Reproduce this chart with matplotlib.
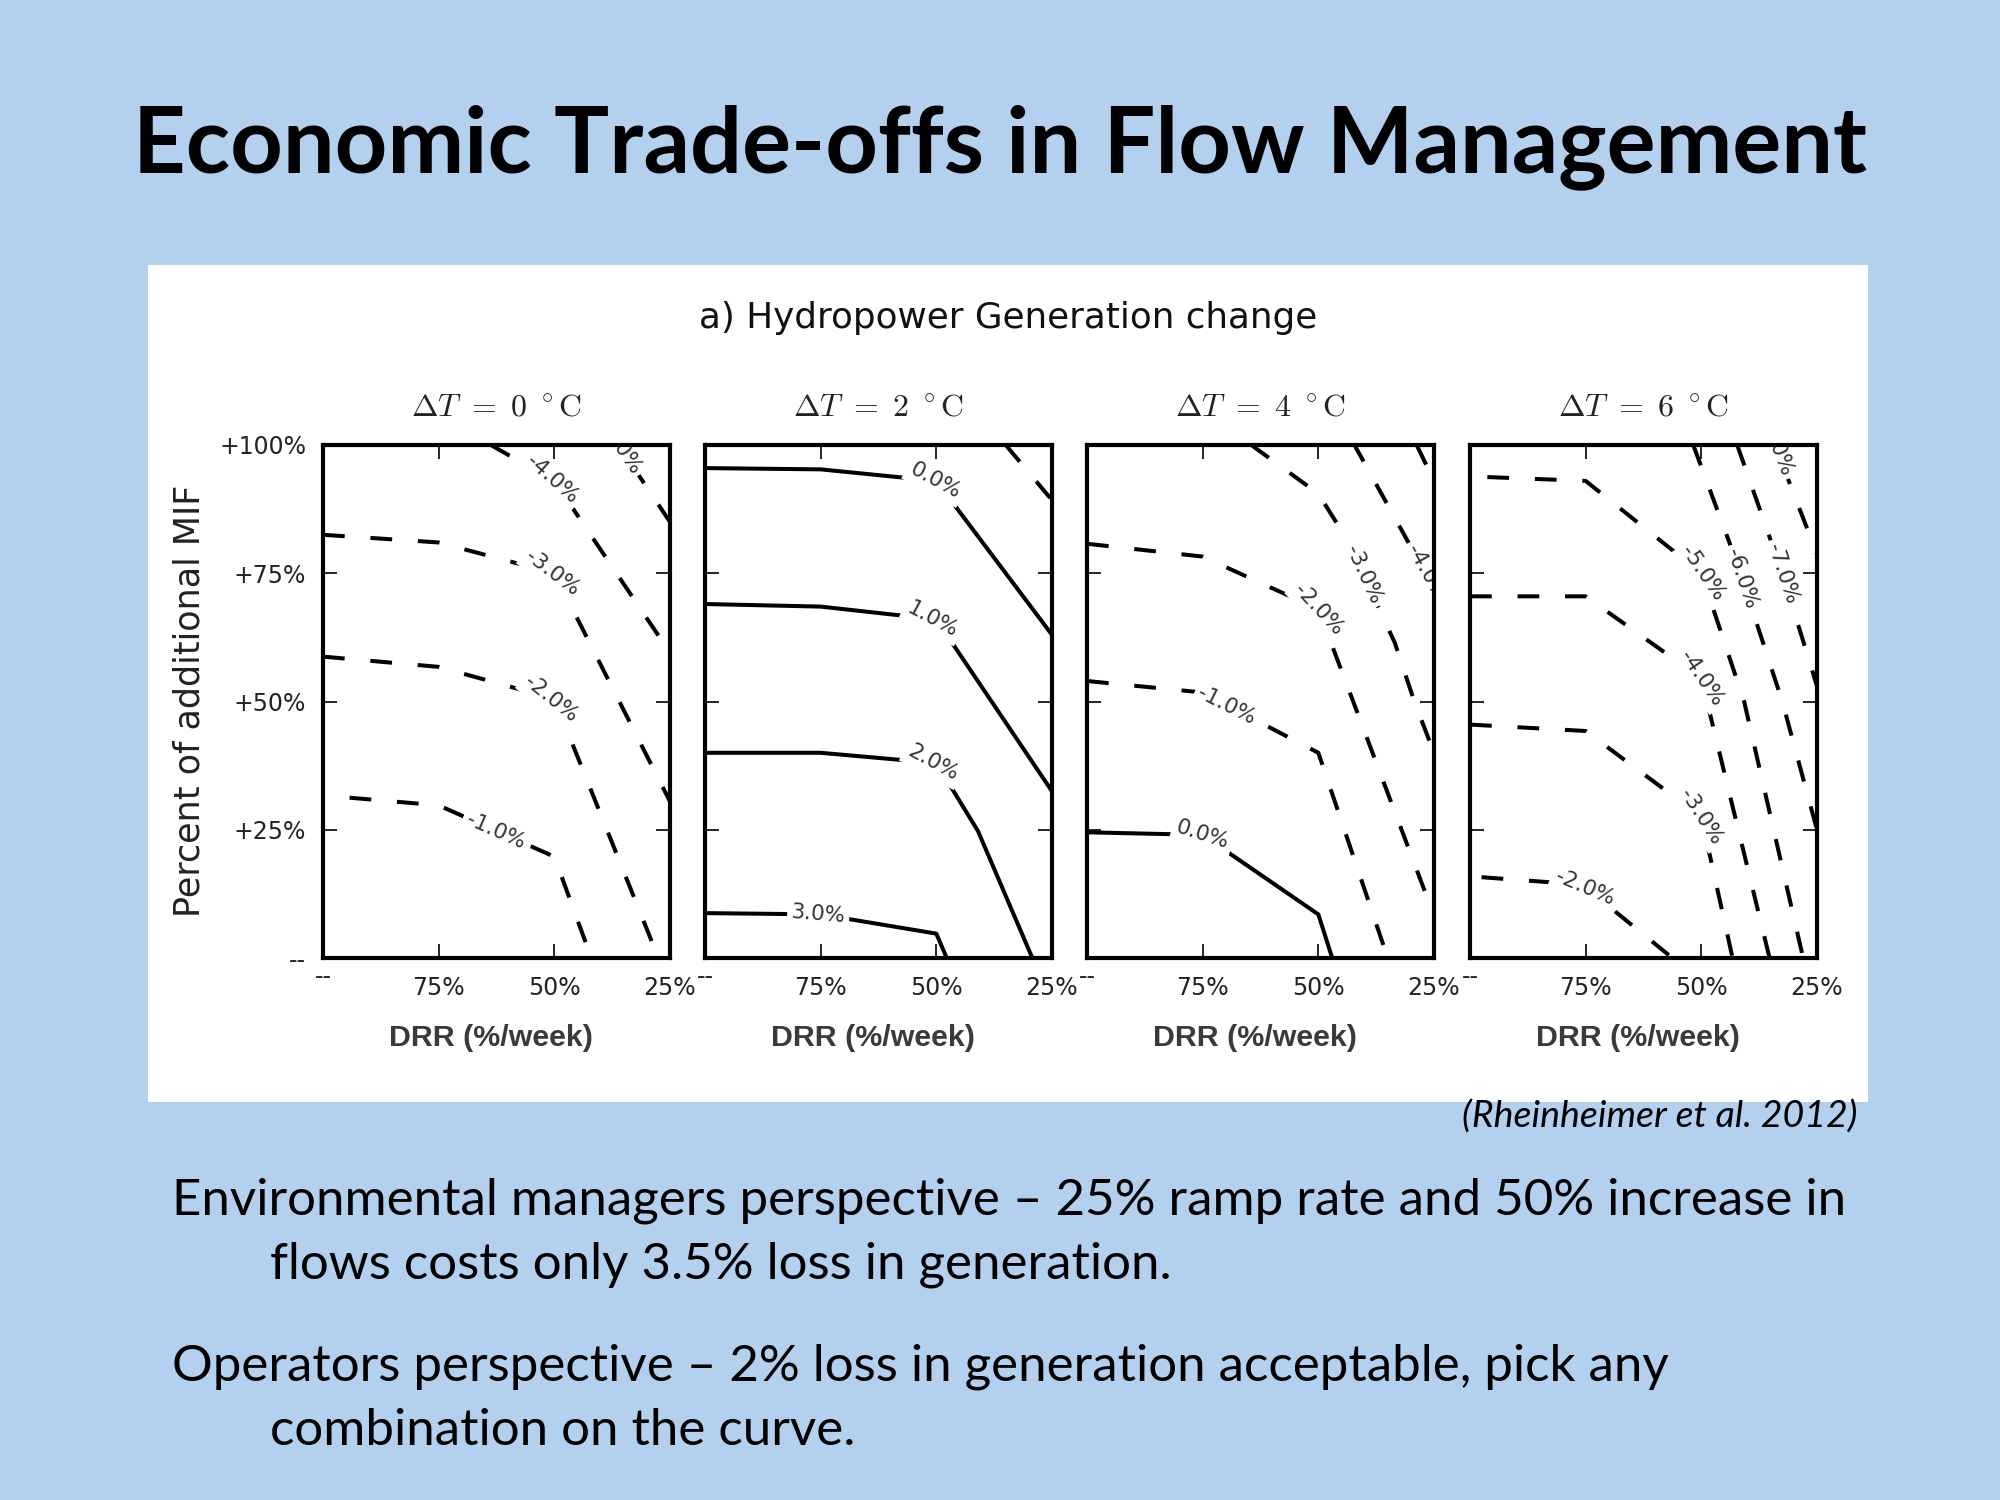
import numpy as np
import matplotlib
matplotlib.use("Agg")
import matplotlib.pyplot as plt
from matplotlib.patches import Rectangle

plt.rcParams["mathtext.fontset"] = "cm"
plt.rcParams["font.family"] = "DejaVu Sans"

W, H = 2000, 1500
BG = "#b3d0ef"

# ---- data (x: 0..3 = "--",75%,50%,25% DRR; y: 0..4 = "--"..+100% MIF) ----
panel_temps = [0, 2, 4, 6]
x_ticklabels = ["--", "75%", "50%", "25%"]
y_ticklabels = ["--", "+25%", "+50%", "+75%", "+100%"]

dt0_levels = [-1.0, -2.0, -3.0, -4.0, -5.0]
dt0_x = [[0.23, 1.0, 2.0, 2.32], [0, 1, 2, 2.9], [0, 1, 2, 3], [1.45, 2, 3], [2.44, 2.74, 3.0]]
dt0_y = [[1.25, 1.19, 0.79, 0.0], [2.35, 2.27, 2.02, 0.0], [3.30, 3.24, 3.0, 1.22],
         [4.0, 3.72, 2.38], [4.15, 3.75, 3.4]]
dt0_lab_x = [1.49, 1.97, 1.98, 1.98, 2.56]
dt0_lab_y = [0.99, 2.02, 3.0, 3.73, 3.99]

dt2_levels = [0.0, 1.0, 2.0, 3.0, -1.0]
dt2_x = [[0, 1, 2, 2.6, 3], [0, 1, 2, 3], [0, 1, 2, 2.36, 2.83], [0, 1, 2, 2.09], [2.6, 3.0]]
dt2_y = [[3.82, 3.81, 3.72, 3.0, 2.52], [2.76, 2.74, 2.64, 1.3], [1.6, 1.6, 1.52, 0.99, 0.0],
         [0.35, 0.34, 0.19, 0.0], [4.0, 3.57]]
dt2_lab_x = [1.99, 1.97, 1.97, 0.98, None]
dt2_lab_y = [3.72, 2.64, 1.52, 0.34, None]

dt4_levels = [0.0, -1.0, -2.0, -3.0, -4.0, -5.0]
dt4_x = [[0, 1, 2, 2.12], [0, 1, 2, 2.6], [0, 1, 2, 3], [1.42, 2, 2.25, 2.66, 2.83, 3.0],
         [2.3, 3.0], [2.85, 3.0]]
dt4_y = [[0.98, 0.96, 0.34, 0.0], [2.16, 2.07, 1.6, 0.0], [3.23, 3.13, 2.72, 0.33],
         [4.0, 3.62, 3.26, 2.46, 2.0, 1.6], [4.02, 2.88], [4.0, 3.72]]
dt4_lab_x = [1.0, 1.21, 2.0, 2.39, 2.93, None]
dt4_lab_y = [0.96, 1.97, 2.72, 2.99, 3.0, None]

dt6_levels = [-2.0, -3.0, -4.0, -5.0, -6.0, -7.0, -8.0]
dt6_x = [[0.1, 0.7, 1.0, 1.75], [0, 1, 2, 2.27], [0, 1, 2, 2.59], [0.15, 1, 2, 2.37, 2.88],
         [1.93, 2.3, 2.7, 3.0], [2.31, 2.7, 3.0], [2.55, 3.0]]
dt6_y = [[0.63, 0.59, 0.55, 0.0], [1.82, 1.77, 1.1, 0.0], [2.82, 2.82, 2.18, 0.0],
         [3.75, 3.72, 3.0, 2.0, 0.0], [4.0, 3.1, 2.0, 1.0], [4.0, 3.0, 2.12], [4.2, 3.15]]
dt6_lab_x = [0.99, 2.0, 2.0, 2.01, 2.35, 2.7, 2.64]
dt6_lab_y = [0.55, 1.1, 2.18, 3.0, 2.96, 3.0, 3.99]

panels = [
    (dt0_levels, dt0_x, dt0_y, dt0_lab_x, dt0_lab_y),
    (dt2_levels, dt2_x, dt2_y, dt2_lab_x, dt2_lab_y),
    (dt4_levels, dt4_x, dt4_y, dt4_lab_x, dt4_lab_y),
    (dt6_levels, dt6_x, dt6_y, dt6_lab_x, dt6_lab_y),
]

bullet_lines = [
    "Environmental managers perspective \u2013 25% ramp rate and 50% increase in",
    "flows costs only 3.5% loss in generation.",
    "Operators perspective \u2013 2% loss in generation acceptable, pick any",
    "combination on the curve.",
]

# ---- layout (pixels, y from top) ----
panel_left = [323, 705, 1087, 1470]
panel_w = 347
panel_top, panel_bot = 445, 958

fig = plt.figure(figsize=(20, 15), dpi=100)
fig.patch.set_facecolor(BG)
renderer = fig.canvas.get_renderer()

fig.patches.append(Rectangle((148 / W, 1 - 1102 / H), 1720 / W, 837 / H,
                             transform=fig.transFigure, facecolor="white",
                             edgecolor="none", zorder=-5))


def fit_text(x, y, s, width_px, vertical=False, **kw):
    t = fig.text(x / W, 1 - y / H, s, fontsize=20, **kw)
    bb = t.get_window_extent(renderer)
    size = bb.height if vertical else bb.width
    t.set_fontsize(20 * width_px / size)
    return t


def label_angle(ax, xs, ys, lx, ly, half=30):
    pts = ax.transData.transform(np.column_stack([xs, ys]))
    p = ax.transData.transform((lx, ly))
    seg = np.diff(pts, axis=0)
    seglen = np.hypot(seg[:, 0], seg[:, 1])
    cum = np.concatenate([[0], np.cumsum(seglen)])
    best_d, best_s = np.inf, 0.0
    for i in range(len(seg)):
        t = np.clip(np.dot(p - pts[i], seg[i]) / seglen[i] ** 2, 0, 1)
        d = np.hypot(*(pts[i] + t * seg[i] - p))
        if d < best_d:
            best_d, best_s = d, cum[i] + t * seglen[i]
    sa, sb = max(best_s - half, 0), min(best_s + half, cum[-1])
    pa = np.array([np.interp(sa, cum, pts[:, 0]), np.interp(sa, cum, pts[:, 1])])
    pb = np.array([np.interp(sb, cum, pts[:, 0]), np.interp(sb, cum, pts[:, 1])])
    dv = pb - pa
    ang = np.degrees(np.arctan2(dv[1], dv[0]))
    if ang > 90:
        ang -= 180
    if ang < -90:
        ang += 180
    return ang


axes = []
for i, (levels, xs_all, ys_all, lxs, lys) in enumerate(panels):
    ax = fig.add_axes([panel_left[i] / W, 1 - panel_bot / H, panel_w / W,
                       (panel_bot - panel_top) / H])
    ax.set_zorder(1)
    ax.set_xlim(0, 3)
    ax.set_ylim(0, 4)
    for sp in ax.spines.values():
        sp.set_linewidth(3)
    ax.set_xticks(range(4))
    ax.set_yticks(range(5))
    ax.tick_params(direction="in", length=10, width=1.2, top=True, right=True,
                   labelsize=17, colors="black", labelcolor="#222222")
    ax.tick_params(axis="x", pad=13)
    ax.tick_params(axis="y", pad=12)
    ax.set_xticklabels([""] + x_ticklabels[1:])
    ax.annotate(x_ticklabels[0], xy=(0, 0), xycoords=("data", "axes fraction"),
                xytext=(0, -19), textcoords="offset points", ha="center",
                va="baseline", fontsize=17, color="#222222", annotation_clip=False)
    if i == 0:
        ax.set_yticklabels(y_ticklabels)
    else:
        ax.set_yticklabels([])

    for lev, xs, ys, lx, ly in zip(levels, xs_all, ys_all, lxs, lys):
        ls = (0, (5.4, 6.4)) if lev < 0 else "-"
        ax.plot(xs, ys, color="black", lw=2.9, linestyle=ls, zorder=2,
                solid_capstyle="butt", dash_capstyle="butt")
        if lx is not None:
            rot = label_angle(ax, xs, ys, lx, ly)
            ax.text(lx, ly, f"{lev:.1f}%", fontsize=15.5, color="#333333",
                    rotation=rot, rotation_mode="anchor", ha="center", va="center",
                    clip_on=True, zorder=2.2,
                    bbox=dict(boxstyle="square,pad=0.18", facecolor="white",
                              edgecolor="none"))
    axes.append(ax)

# panel titles
t0 = fit_text(panel_left[0] + panel_w / 2, 408,
              r"$\Delta T\ =\ %d\ ^\circ\mathrm{C}$" % panel_temps[0], 171,
              ha="center", va="center", color="#222222")
for i in range(1, 4):
    fig.text((panel_left[i] + panel_w / 2) / W, 1 - 408 / H,
             r"$\Delta T\ =\ %d\ ^\circ\mathrm{C}$" % panel_temps[i],
             fontsize=t0.get_fontsize(), ha="center", va="center", color="#222222")

# x labels
for i in range(4):
    fit_text(panel_left[i] + panel_w / 2 - 6, 1038, "DRR (%/week)", 204,
             ha="center", va="center", family="Liberation Sans",
             weight="bold", color="#3a3a3a")

# y label and chart title
fit_text(189, 701, "Percent of additional MIF", 433, vertical=True,
         rotation=90, ha="center", va="center", color="#222222")
fit_text(1008, 318, "a) Hydropower Generation change", 617,
         ha="center", va="center", color="#111111")

# slide title
fit_text(1000, 172, "Economic Trade-offs in Flow Management", 1732,
         ha="center", va="baseline", family="Lato", weight="bold", color="black")

# citation
fit_text(1857, 1128, "(Rheinheimer et al. 2012)", 395, ha="right", va="baseline",
         family="Lato", style="italic", color="black")

# bullet text
b0 = fit_text(172, 1214, bullet_lines[0], 1676, ha="left", va="baseline",
              family="Lato", color="black")
bs = b0.get_fontsize()
for s, x, y in zip(bullet_lines[1:], [270, 172, 270], [1279, 1381, 1445]):
    fig.text(x / W, 1 - y / H, s, fontsize=bs, ha="left", va="baseline",
             family="Lato", color="black")

fig.savefig("out.png", dpi=100, facecolor=fig.get_facecolor())
plt.close(fig)
